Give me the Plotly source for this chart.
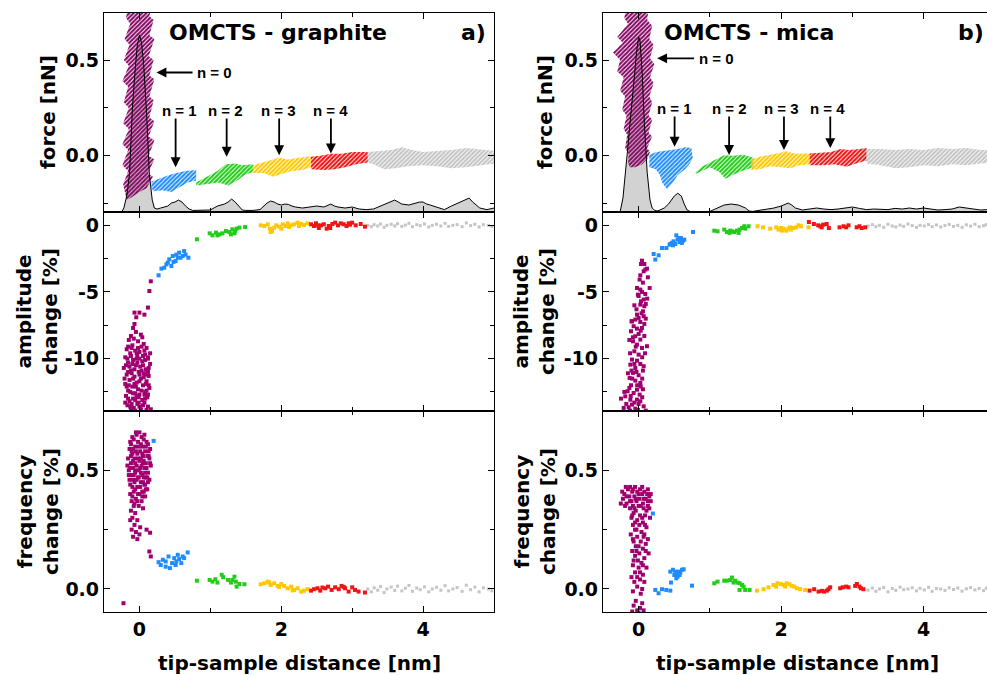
import plotly.graph_objects as go

W, H = 987, 675
FONT = "DejaVu Sans"

# ---------------- tick labels ----------------
X_TICKS = [0, 2, 4]
X_TEXT = ["0", "2", "4"]
X_MINOR = [1, 3]
F_TICKS = [0.0, 0.5]
F_TEXT = ["0.0", "0.5"]
F_MINOR = [-0.25, 0.25]
A_TICKS = [-10, -5, 0]
A_TEXT = ["-10", "-5", "0"]
A_MINOR = [-12.5, -7.5, -2.5]
Q_TICKS = [0.0, 0.5]
Q_TEXT = ["0.0", "0.5"]
Q_MINOR = [0.25]

# ---------------- histogram (gray distribution in force panels) ----------------
g_hist_x = [-0.50,-0.30,-0.25,-0.22,-0.18,-0.14,-0.10,-0.06,-0.03,0.00,0.03,0.06,0.10,0.14,0.18,0.21,0.25,0.30,0.35,
            0.40,0.45,0.50,0.55,0.60,0.65,0.70,0.75,0.80,0.90,1.00,1.05,1.10,1.15,1.20,1.25,1.30,1.35,1.40,1.45,
            1.50,1.60,1.70,1.75,1.80,1.85,1.90,1.95,2.00,2.05,2.10,2.15,2.20,2.30,2.40,2.50,2.60,2.70,2.75,2.80,
            2.90,3.00,3.10,3.20,3.30,3.40,3.50,3.55,3.60,3.65,3.70,3.80,3.90,3.95,4.00,4.05,4.10,4.20,4.30,4.40,
            4.50,4.60,4.65,4.70,4.80,4.90,5.00]
g_hist_h = [0,0,0,0.02,0.08,0.19,0.52,0.72,0.84,0.89,0.85,0.74,0.50,0.19,0.06,0.02,0.015,0.02,0.025,
            0.03,0.045,0.05,0.06,0.05,0.03,0.015,0.008,0.008,0.008,0.01,0.02,0.03,0.035,0.04,0.05,0.065,0.05,0.03,0.01,
            0.008,0.008,0.012,0.03,0.045,0.055,0.05,0.04,0.035,0.04,0.038,0.03,0.025,0.02,0.025,0.03,0.025,0.04,0.03,0.025,
            0.02,0.025,0.015,0.012,0.015,0.03,0.045,0.05,0.06,0.05,0.04,0.035,0.045,0.05,0.05,0.04,0.035,0.025,0.012,0.03,
            0.045,0.06,0.07,0.05,0.02,0.012,0.02]
m_hist_x = [-0.50,-0.30,-0.26,-0.22,-0.19,-0.15,-0.12,-0.09,-0.06,-0.03,0.00,0.02,0.05,0.08,0.12,0.16,0.19,0.22,0.26,0.30,
            0.36,0.42,0.46,0.50,0.55,0.60,0.64,0.68,0.72,0.80,0.90,1.00,1.10,1.20,1.30,1.40,1.50,1.55,1.60,1.70,
            1.80,1.90,2.00,2.10,2.15,2.20,2.30,2.40,2.50,2.60,2.70,2.80,2.90,3.00,3.10,3.20,3.30,3.40,3.50,3.60,
            3.70,3.80,3.90,4.00,4.10,4.20,4.30,4.40,4.50,4.60,4.70,4.80,4.90]
m_hist_h = [0,0,0,0.07,0.2,0.33,0.45,0.55,0.68,0.80,0.88,0.86,0.70,0.45,0.20,0.06,0.02,0.01,0.005,0.01,
            0.02,0.04,0.06,0.08,0.094,0.08,0.04,0.01,0.003,0.0,0.0,0.003,0.02,0.035,0.04,0.035,0.02,0.005,0.003,0.008,
            0.012,0.02,0.03,0.045,0.035,0.02,0.01,0.015,0.02,0.015,0.012,0.015,0.02,0.025,0.018,0.012,0.015,0.015,0.012,0.018,
            0.015,0.02,0.015,0.02,0.015,0.01,0.012,0.015,0.025,0.02,0.012,0.01,0.012]

# ---------------- force curves (outline of each n-layer band) ----------------
g_force_p = [(-0.15,0.80),(-0.19,0.72),(-0.13,0.69),(-0.21,0.61),(-0.14,0.58),(-0.22,0.50),(-0.15,0.47),(-0.24,0.39),
             (-0.16,0.36),(-0.22,0.28),(-0.15,0.25),(-0.23,0.17),(-0.15,0.14),(-0.24,0.06),(-0.16,0.03),(-0.24,-0.05),
             (-0.16,-0.08),(-0.23,-0.15),(-0.18,-0.23),(-0.12,-0.22),(0.0,-0.19),(0.10,-0.17),(0.19,-0.11),(0.12,-0.09),
             (0.21,-0.02),(0.13,0.0),(0.21,0.08),(0.13,0.10),(0.21,0.18),(0.14,0.20),(0.20,0.29),(0.14,0.31),(0.21,0.40),
             (0.14,0.42),(0.20,0.50),(0.13,0.52),(0.21,0.61),(0.14,0.63),(0.20,0.71),(0.14,0.73),(0.18,0.80)]
g_force_b = [(0.17,-0.135),(0.30,-0.115),(0.42,-0.10),(0.52,-0.09),(0.65,-0.08),(0.80,-0.075),(0.80,-0.13),(0.68,-0.14),
             (0.55,-0.17),(0.45,-0.19),(0.32,-0.18),(0.20,-0.185),(0.17,-0.17)]
g_force_g = [(0.80,-0.14),(0.95,-0.11),(1.10,-0.08),(1.22,-0.045),(1.35,-0.04),(1.45,-0.05),(1.60,-0.045),(1.60,-0.085),
             (1.48,-0.10),(1.38,-0.13),(1.25,-0.155),(1.12,-0.14),(0.95,-0.15),(0.80,-0.155)]
g_force_y = [(1.60,-0.05),(1.75,-0.035),(1.90,-0.02),(1.97,-0.01),(2.10,-0.02),(2.25,-0.01),(2.42,-0.003),(2.42,-0.06),
             (2.30,-0.075),(2.15,-0.08),(2.00,-0.095),(1.88,-0.11),(1.75,-0.09),(1.60,-0.09)]
g_force_r = [(2.42,-0.005),(2.55,0.0),(2.70,0.01),(2.85,0.01),(3.00,0.02),(3.22,0.02),(3.22,-0.035),(3.05,-0.045),
             (2.90,-0.06),(2.75,-0.07),(2.60,-0.075),(2.42,-0.07)]
g_force_k = [(3.22,0.02),(3.40,0.025),(3.55,0.03),(3.70,0.045),(3.85,0.03),(4.00,0.02),(4.20,0.025),(4.40,0.03),(4.60,0.04),
             (4.80,0.035),(5.05,0.025),(5.05,-0.04),(4.85,-0.05),(4.60,-0.06),(4.40,-0.065),(4.20,-0.055),(4.00,-0.05),
             (3.80,-0.055),(3.60,-0.065),(3.45,-0.07),(3.30,-0.045),(3.22,-0.035)]

m_force_p = [(-0.17,0.80),(-0.20,0.72),(-0.15,0.69),(-0.30,0.62),(-0.22,0.59),(-0.36,0.54),(-0.26,0.50),(-0.30,0.44),
             (-0.21,0.41),(-0.26,0.34),(-0.19,0.31),(-0.23,0.24),(-0.17,0.21),(-0.21,0.14),(-0.16,0.11),(-0.19,0.04),
             (-0.14,0.01),(-0.15,-0.04),(-0.12,-0.06),(-0.05,-0.06),(0.05,-0.045),(0.12,-0.02),(0.16,0.02),(0.12,0.04),
             (0.19,0.10),(0.14,0.12),(0.19,0.19),(0.14,0.21),(0.19,0.28),(0.15,0.31),(0.21,0.38),(0.16,0.41),(0.22,0.48),
             (0.16,0.51),(0.21,0.58),(0.15,0.61),(0.19,0.68),(0.12,0.71),(0.15,0.80)]
m_force_b = [(0.15,0.005),(0.25,0.02),(0.35,0.025),(0.45,0.03),(0.55,0.035),(0.65,0.045),(0.74,0.04),(0.76,-0.01),
             (0.72,-0.04),(0.65,-0.07),(0.55,-0.10),(0.48,-0.14),(0.40,-0.175),(0.33,-0.14),(0.30,-0.10),(0.24,-0.07),(0.15,-0.06)]
m_force_g = [(0.80,-0.085),(0.90,-0.055),(1.00,-0.035),(1.10,-0.015),(1.20,0.003),(1.32,0.0),(1.47,0.005),(1.61,-0.01),
             (1.61,-0.06),(1.45,-0.08),(1.32,-0.10),(1.22,-0.12),(1.13,-0.085),(1.00,-0.06),(0.88,-0.08),(0.80,-0.095)]
m_force_y = [(1.58,-0.02),(1.70,-0.005),(1.85,0.005),(2.00,0.015),(2.05,0.025),(2.20,0.01),(2.40,0.012),(2.40,-0.045),
             (2.25,-0.05),(2.13,-0.065),(2.00,-0.06),(1.85,-0.055),(1.70,-0.07),(1.58,-0.075)]
m_force_r = [(2.40,0.012),(2.55,0.015),(2.70,0.02),(2.83,0.035),(2.95,0.03),(3.10,0.035),(3.20,0.04),(3.20,-0.025),
             (3.05,-0.04),(2.92,-0.058),(2.75,-0.045),(2.60,-0.05),(2.40,-0.05)]
m_force_k = [(3.20,0.035),(3.40,0.035),(3.60,0.03),(3.80,0.035),(4.00,0.03),(4.20,0.04),(4.40,0.035),(4.60,0.04),(4.80,0.03),
             (5.0,0.03),(5.0,-0.035),(4.80,-0.04),(4.60,-0.05),(4.40,-0.045),(4.20,-0.055),(4.00,-0.05),(3.80,-0.06),
             (3.60,-0.065),(3.40,-0.05),(3.20,-0.04)]

# ---------------- amplitude change [%] (graphite) ----------------
g_amp_p = [(0.14,-4.93),(0.16,-4.20),(0.12,-6.17),(-0.07,-6.55),(0.0,-6.55),(0.07,-6.70),(-0.045,-6.9),(-0.07,-7.4),
           (-0.09,-7.7),(-0.05,-8.0),(0.02,-8.2),(-0.12,-8.3),(-0.15,-8.6),(-0.02,-8.7),(0.06,-8.9),(-0.10,-9.0),
           (0.03,-9.1),(-0.18,-9.3),(0.10,-9.2),(-0.06,-9.4),(0.0,-9.5),(-0.13,-9.6),(0.08,-9.7),(-0.20,-9.9),
           (-0.03,-9.8),(0.12,-10.0),(-0.09,-10.1),(0.04,-10.2),(-0.16,-10.3),(0.15,-10.4),(-0.05,-10.5),(0.01,-10.6),
           (-0.22,-10.7),(0.09,-10.8),(-0.12,-10.9),(-0.01,-11.0),(0.06,-11.1),(-0.18,-11.2),(0.13,-11.3),(-0.07,-11.35),
           (0.02,-11.5),(-0.14,-11.6),(0.10,-11.7),(-0.04,-11.8),(-0.20,-11.9),(0.05,-12.0),(-0.10,-12.1),(0.14,-12.2),
           (-0.02,-12.3),(-0.16,-12.4),(0.08,-12.5),(-0.06,-12.6),(0.00,-12.7),(-0.19,-12.8),(0.11,-12.9),(-0.09,-13.0),
           (0.04,-13.1),(-0.14,-13.2),(0.07,-13.3),(-0.03,-13.4),(-0.17,-13.5),(0.12,-13.6),(-0.08,-13.7),(0.02,-13.8),
           (-0.12,-13.85),(0.16,-13.8),(-0.21,-11.5),(0.15,-9.6),(-0.11,-9.2),(0.05,-9.8),(-0.07,-10.8),(0.11,-10.9),
           (-0.13,-12.5),(0.09,-11.9),(-0.01,-12.9),(-0.04,-10.0),(0.07,-12.7),(-0.17,-10.0),(-0.08,-8.5),(0.04,-8.4),
           (-0.02,-9.2),(0.08,-10.1),(-0.14,-10.6),(0.03,-10.9),(-0.09,-11.5),(0.06,-11.4),(-0.05,-12.1),(0.10,-12.4),
           (-0.11,-13.4),(0.0,-13.6),(-0.06,-13.1),(0.12,-11.0),(-0.18,-12.1),(0.0,-11.2),
           (-0.16,-9.1),(0.07,-9.4),(-0.04,-9.6),(0.12,-9.9),(-0.19,-10.5),(-0.10,-10.4),(0.05,-10.5),(0.13,-10.7),
           (-0.03,-10.3),(-0.16,-11.0),(0.08,-11.2),(-0.11,-11.1),(0.0,-11.7),(-0.07,-11.9),(0.13,-12.0),(-0.15,-12.0),
           (0.03,-12.4),(-0.09,-12.6),(0.12,-12.7),(-0.04,-12.8),(-0.16,-13.0),(0.08,-13.0),(-0.01,-13.3),(-0.13,-13.6),
           (0.05,-13.5),(0.10,-13.85),(-0.06,-13.9),(-0.20,-13.3),(0.0,-10.0),(-0.12,-9.8)]
g_amp_b = [(0.27,-3.75),(0.31,-3.25),(0.35,-3.18),(0.40,-2.80),(0.45,-3.05),(0.42,-2.55),(0.47,-2.30),(0.52,-2.20),
           (0.56,-2.05),(0.58,-2.43),(0.63,-1.93),(0.61,-2.30),(0.69,-2.43),(0.51,-2.68),(0.54,-2.43),(0.48,-2.75),
           (0.38,-2.93),(0.65,-2.20)]
g_amp_g = [(0.81,-1.05),(0.99,-0.60),(1.03,-0.75),(1.08,-0.55),(1.13,-0.68),(1.17,-0.60),(1.22,-0.43),(1.27,-0.50),
           (1.31,-0.30),(1.34,-0.60),(1.37,-0.25),(1.41,-0.17),(1.49,-0.13),(1.10,-0.75),(1.29,-0.68),(1.35,-0.43)]
g_amp_y = [(1.71,0.0),(1.76,-0.05),(1.81,0.075),(1.84,-0.25),(1.87,-0.43),(1.90,-0.18),(1.93,0.0),(1.97,-0.1),
           (2.02,0.075),(2.06,-0.05),(2.09,0.15),(2.14,0.0),(2.18,0.075),(2.23,0.2),(2.28,0.1),(2.32,0.025),
           (2.37,0.15),(1.85,-0.5),(2.00,-0.25),(2.11,-0.13),(2.25,-0.05)]
g_amp_r = [(2.42,0.08),(2.46,-0.05),(2.49,0.15),(2.53,-0.2),(2.56,0.0),(2.60,0.08),(2.64,-0.25),(2.67,-0.05),
           (2.72,0.1),(2.76,0.2),(2.80,0.0),(2.84,0.15),(2.88,0.08),(2.92,-0.05),(2.95,0.15),(3.00,0.2),
           (3.05,0.0),(3.12,0.1),(3.18,-0.1),(2.51,0.0),(2.69,-0.2),(2.97,0.05)]
g_gray_x = [3.22,3.27,3.31,3.36,3.40,3.45,3.49,3.55,3.60,3.64,3.70,3.75,3.80,3.85,3.91,3.96,4.02,4.08,4.13,4.19,
            4.25,4.31,4.36,4.42,4.48,4.55,4.61,4.67,4.73,4.79,4.85,4.92,4.97]
g_amp_k = [0.0,-0.1,0.05,-0.05,0.1,-0.15,0.0,0.08,-0.05,0.12,-0.08,0.02,0.15,-0.1,0.05,-0.02,0.1,-0.12,0.0,0.08,
           -0.05,0.15,-0.08,0.0,0.05,-0.1,0.18,-0.02,0.08,-0.12,0.05,0.0,-0.08]

# ---------------- frequency change [%] (graphite) ----------------
g_frq_p = [(0.0,0.66),(-0.04,0.65),(0.03,0.64),(-0.08,0.63),(0.06,0.63),(0.10,0.62),(-0.02,0.62),(-0.12,0.61),(0.12,0.61),
           (0.04,0.60),(-0.06,0.60),(0.15,0.59),(-0.14,0.59),(0.01,0.58),(0.08,0.58),(-0.10,0.57),(-0.03,0.57),(0.11,0.56),
           (0.05,0.56),(-0.16,0.55),(-0.07,0.55),(0.14,0.55),(0.00,0.54),(-0.12,0.53),(0.09,0.53),(-0.04,0.52),(0.03,0.52),
           (0.16,0.52),(-0.09,0.51),(0.07,0.51),(-0.15,0.50),(-0.01,0.50),(0.12,0.49),(-0.06,0.49),(0.04,0.48),(-0.11,0.48),
           (0.09,0.47),(-0.02,0.47),(0.14,0.46),(-0.14,0.46),(-0.07,0.45),(0.02,0.45),(0.07,0.44),(-0.10,0.43),(-0.03,0.43),
           (0.11,0.42),(0.04,0.41),(-0.08,0.41),(-0.13,0.40),(0.0,0.40),(0.08,0.39),(-0.05,0.38),(-0.11,0.37),(0.03,0.37),
           (-0.08,0.35),(-0.01,0.35),(0.05,0.34),(-0.12,0.33),(-0.06,0.32),(-0.10,0.30),(-0.03,0.29),(-0.13,0.29),
           (-0.07,0.27),(0.01,0.26),(-0.11,0.25),(-0.05,0.24),(0.10,0.25),(-0.09,0.22),(-0.03,0.21),(0.00,0.23),
           (0.14,0.158),(0.16,0.137),(0.15,0.237),(-0.225,-0.06),(-0.17,0.52),(0.13,0.58),(-0.05,0.66),(0.02,0.55),
           (-0.09,0.59),(0.06,0.47),(-0.01,0.60),(0.05,0.53),(-0.06,0.53),(0.10,0.51),(-0.12,0.56),(0.02,0.49),
           (-0.04,0.46),(0.08,0.44),(-0.08,0.48),(0.12,0.45),(-0.02,0.40),(0.06,0.41),
           (-0.10,0.64),(0.07,0.65),(-0.13,0.62),(0.02,0.61),(0.09,0.60),(-0.05,0.58),(-0.11,0.58),(0.04,0.57),
           (0.13,0.56),(-0.02,0.55),(-0.09,0.54),(0.06,0.54),(0.15,0.53),(-0.13,0.51),(0.01,0.51),(-0.06,0.50),
           (0.08,0.49),(-0.15,0.48),(-0.01,0.47),(0.11,0.47),(-0.09,0.46),(0.05,0.45),(-0.13,0.44),(0.01,0.43),
           (-0.06,0.42),(0.09,0.42),(-0.10,0.39),(0.04,0.39),(-0.03,0.37),(-0.07,0.36)]
g_frq_b = [(0.27,0.113),(0.30,0.101),(0.33,0.123),(0.37,0.116),(0.41,0.137),(0.43,0.088),(0.46,0.109),(0.49,0.130),
           (0.52,0.116),(0.54,0.144),(0.56,0.126),(0.59,0.109),(0.61,0.137),(0.63,0.130),(0.68,0.154),(0.51,0.101),
           (0.37,0.094),(0.20,0.624)]
g_frq_g = [(0.81,0.035),(0.99,0.038),(1.03,0.031),(1.07,0.041),(1.10,0.027),(1.16,0.060),(1.18,0.050),(1.25,0.038),
           (1.29,0.027),(1.34,0.052),(1.36,0.031),(1.37,0.010),(1.41,0.021),(1.48,0.020),(1.31,0.038)]
g_frq_y = [(1.71,0.020),(1.76,0.024),(1.81,0.031),(1.85,0.017),(1.90,0.024),(1.95,0.013),(2.00,0.021),(2.04,0.013),
           (2.09,0.003),(2.14,0.010),(2.18,-0.004),(2.23,0.003),(2.28,-0.011),(2.32,-0.007),(2.37,-0.001),(1.83,0.027),
           (1.97,0.008),(2.16,-0.006)]
g_frq_r = [(2.42,-0.007),(2.46,-0.001),(2.51,0.003),(2.55,-0.007),(2.62,0.003),(2.66,0.010),(2.71,-0.004),(2.76,0.007),
           (2.81,-0.001),(2.85,0.013),(2.90,0.003),(2.95,-0.011),(3.00,0.007),(3.04,-0.004),(3.09,-0.011),(3.18,-0.015),
           (2.58,0.006),(2.88,0.009)]
g_frq_k = [0.0,-0.012,0.005,-0.005,0.01,-0.015,0.0,0.008,-0.006,0.012,-0.008,0.003,0.015,-0.01,0.004,-0.003,0.009,
           -0.012,0.0,0.007,-0.005,0.014,-0.008,0.0,0.006,-0.01,0.016,-0.003,0.008,-0.012,0.005,0.0,-0.008]

# ---------------- amplitude change [%] (mica) ----------------
m_amp_p = [(0.047,-2.65),(0.033,-2.90),(0.094,-3.32),(0.071,-3.45),(0.117,-3.25),(0.024,-3.75),(0.014,-4.07),(-0.023,-4.70),
           (0.024,-4.82),(0.047,-5.0),(0.094,-5.15),(0.155,-4.70),(0.071,-5.57),(0.033,-5.70),(0.024,-5.95),(0.080,-6.07),
           (0.061,-6.45),(-0.023,-6.70),(-0.093,-7.20),(-0.046,-7.07),(0.0,-6.95),(0.071,-6.82),(0.024,-7.25),(-0.070,-7.57),
           (-0.107,-7.95),(-0.023,-7.75),(0.047,-7.70),(0.0,-8.15),(-0.046,-8.32),(0.024,-8.57),(-0.079,-8.70),(-0.023,-8.95),
           (0.047,-9.20),(0.117,-9.07),(-0.060,-9.45),(0.0,-9.70),(-0.093,-10.07),(-0.023,-10.15),(0.024,-10.40),
           (-0.116,-10.45),(-0.046,-10.70),(0.071,-10.57),(-0.079,-11.07),(0.0,-11.25),(-0.126,-11.45),(-0.046,-11.65),
           (0.024,-11.83),(-0.107,-12.0),(-0.023,-12.33),(-0.154,-12.45),(-0.070,-12.58),(0.014,-12.70),(-0.187,-12.83),
           (-0.116,-13.08),(-0.023,-13.08),(-0.247,-13.0),(-0.173,-13.40),(-0.093,-13.45),(0.0,-13.40),(0.071,-13.58),
           (-0.046,-13.75),(-0.140,-13.65),(0.024,-13.20),(0.0,-5.3),(0.10,-5.9),(-0.03,-6.3),(0.08,-7.4),(-0.08,-8.4),
           (0.05,-9.9),(-0.10,-10.9),(0.03,-12.1),(-0.03,-11.0),(-0.13,-12.2),
           (0.08,-2.9),(0.13,-3.9),(0.06,-4.3),(-0.01,-5.2),(0.12,-5.5),(0.04,-6.6),(-0.06,-6.0),(0.10,-7.0),(-0.10,-7.2),
           (0.03,-7.9),(-0.13,-8.6),(0.08,-8.3),(-0.04,-9.1),(0.09,-9.6),(-0.12,-9.6),(-0.06,-10.4),(0.06,-10.9),
           (-0.15,-11.1),(0.05,-11.5),(-0.09,-11.5),(-0.02,-12.0),(0.06,-12.3),(-0.20,-12.5),(-0.11,-12.8),(0.05,-12.9),
           (-0.06,-13.3),(-0.21,-13.7),(0.10,-13.9),(-0.01,-13.85),(-0.12,-13.9)]
m_amp_b = [(0.211,-2.15),(0.281,-2.25),(0.234,-2.57),(0.328,-1.70),(0.389,-1.70),(0.435,-1.45),(0.468,-1.32),(0.491,-1.20),
           (0.529,-0.75),(0.547,-1.07),(0.575,-1.25),(0.594,-0.95),(0.622,-1.15),(0.641,-1.07),(0.515,-1.40),(0.561,-0.95),
           (0.482,-1.50),(0.445,-1.40),(0.608,-1.32),(0.763,-0.50)]
m_amp_g = [(1.062,-0.40),(1.108,-0.45),(1.202,-0.32),(1.239,-0.50),(1.277,-0.57),(1.31,-0.45),(1.342,-0.50),(1.38,-0.40),
           (1.417,-0.32),(1.45,-0.20),(1.482,-0.07),(1.497,-0.25),(1.543,-0.07),(1.403,-0.57),(1.286,-0.40)]
m_amp_y = [(1.669,-0.07),(1.745,-0.15),(1.847,-0.25),(1.932,-0.15),(1.964,-0.32),(1.997,-0.20),(2.034,-0.25),(2.072,-0.40),
           (2.104,-0.25),(2.137,-0.32),(2.174,-0.20),(2.212,-0.15),(2.244,0.0),(2.277,-0.07),(2.385,-0.15),(2.011,-0.40),
           (2.128,-0.15)]
m_amp_r = [(2.39,0.25),(2.46,0.10),(2.52,0.0),(2.55,-0.07),(2.59,0.05),(2.64,0.10),(2.67,-0.20),(2.82,-0.15),(2.876,-0.07),
           (2.913,-0.15),(2.946,0.0),(3.06,-0.15),(3.10,-0.07),(3.13,-0.20),(3.18,-0.15),(2.57,-0.15)]
m_gray_x = [3.22,3.28,3.33,3.38,3.44,3.50,3.56,3.61,3.67,3.72,3.78,3.84,3.90,3.95,4.01,4.07,4.12,4.18,4.24,4.30,
            4.36,4.42,4.48,4.54,4.60,4.66,4.72,4.78,4.84,4.88]
m_amp_k = [-0.05,0.05,-0.1,0.0,-0.15,0.08,-0.05,-0.12,0.02,-0.08,0.1,-0.02,-0.15,0.0,-0.05,0.05,-0.1,0.03,-0.12,-0.02,
           0.06,-0.08,0.0,-0.15,0.04,-0.06,0.08,-0.1,-0.03,0.05]

# ---------------- frequency change [%] (mica) ----------------
m_frq_p = [(-0.12,0.43),(-0.05,0.43),(0.02,0.42),(-0.15,0.42),(0.08,0.41),(-0.09,0.41),(-0.02,0.41),(0.12,0.40),(-0.20,0.40),
           (0.05,0.40),(-0.13,0.39),(0.15,0.39),(-0.06,0.39),(0.01,0.38),(-0.22,0.38),(0.10,0.38),(-0.10,0.37),(0.17,0.37),
           (-0.03,0.37),(0.06,0.36),(-0.17,0.36),(-0.08,0.35),(0.13,0.35),(0.0,0.35),(-0.12,0.34),(0.07,0.34),(-0.04,0.33),
           (0.11,0.33),(-0.25,0.36),(0.16,0.30),(-0.07,0.32),(0.02,0.31),(0.09,0.31),(-0.10,0.30),(-0.02,0.29),(0.06,0.28),
           (-0.08,0.27),(0.01,0.27),(0.11,0.26),(-0.05,0.25),(0.04,0.24),(-0.11,0.23),(0.08,0.23),(-0.02,0.22),(0.13,0.21),
           (-0.07,0.20),(0.03,0.20),(0.10,0.19),(-0.04,0.18),(0.06,0.17),(-0.09,0.16),(0.01,0.15),(0.14,0.15),(-0.05,0.14),
           (0.08,0.13),(-0.01,0.12),(0.04,0.11),(-0.08,0.10),(0.11,0.09),(0.0,0.09),(-0.05,0.07),(0.06,0.06),(-0.10,0.05),
           (0.02,0.04),(-0.06,0.03),(0.08,0.03),(-0.02,0.01),(0.05,0.0),(-0.08,-0.01),(0.03,-0.02),(-0.04,-0.05),
           (0.05,-0.06),(-0.07,-0.07),(0.02,-0.08),(-0.02,-0.09),(0.07,-0.09),(-0.09,-0.095),(0.0,-0.1),
           (-0.18,0.43),(0.05,0.43),(-0.08,0.42),(0.13,0.42),(-0.23,0.41),(0.0,0.40),(0.17,0.40),(-0.17,0.39),
           (-0.04,0.38),(0.07,0.38),(-0.12,0.37),(0.13,0.37),(-0.19,0.35),(0.03,0.35),(-0.06,0.34),(0.15,0.34),
           (-0.09,0.31),(0.05,0.30),(-0.05,0.28),(0.09,0.27),(-0.03,0.25),(0.07,0.22),(-0.08,0.21),(0.0,0.18),
           (0.10,0.16),(-0.03,0.16),(-0.07,0.12),(0.06,0.10),(0.02,0.07),(-0.02,0.05)]
m_frq_b = [(0.234,-0.004),(0.28,-0.018),(0.328,-0.001),(0.388,-0.004),(0.445,-0.007),(0.454,0.027),(0.749,0.014),
           (0.20,0.318),(0.445,0.073),(0.482,0.081),(0.515,0.066),(0.538,0.059),(0.562,0.073),(0.585,0.069),(0.608,0.081),
           (0.632,0.083),(0.529,0.045),(0.547,0.052),(0.501,0.059),(0.575,0.059),(0.52,0.073),(0.53,0.065),(0.55,0.07)]
m_frq_g = [(1.062,0.024),(1.108,0.031),(1.202,0.035),(1.24,0.035),(1.286,0.038),(1.31,0.048),(1.332,0.027),(1.356,0.035),
           (1.389,0.027),(1.417,0.024),(1.45,0.017),(1.473,0.010),(1.496,-0.004),(1.417,-0.004),(1.557,-0.004)]
m_frq_y = [(1.66,-0.007),(1.753,-0.001),(1.823,0.007),(1.893,0.017),(1.95,0.024),(1.997,0.021),(2.034,0.017),(2.08,0.024),
           (2.118,0.020),(2.151,0.013),(2.184,0.010),(2.22,0.003),(2.268,-0.001),(2.338,-0.004),(1.93,0.010),(2.057,0.010)]
m_frq_r = [(2.40,-0.007),(2.464,-0.001),(2.525,-0.011),(2.572,-0.008),(2.605,-0.011),(2.665,-0.001),(2.689,0.007),
           (2.829,0.003),(2.866,0.007),(2.913,0.010),(2.946,0.007),(3.039,0.013),(3.063,0.021),(3.10,0.010),(3.12,0.003),
           (3.156,-0.001),(2.642,-0.007)]
m_frq_k = [-0.005,0.004,-0.01,0.0,0.006,-0.012,0.002,-0.006,0.008,-0.003,0.0,0.005,-0.008,0.003,-0.004,0.007,-0.01,
           0.002,0.0,-0.006,0.005,-0.002,0.004,-0.009,0.001,0.006,-0.004,0.002,-0.007,0.003]

# ---------------- layer labels ----------------
g_n_labels = ["n = 1", "n = 2", "n = 3", "n = 4"]
g_n_x = [0.57, 1.21, 1.96, 2.69]
g_n_arrow_x = [0.51, 1.23, 1.97, 2.70]
g_n_arrow_y = [-0.06, -0.005, 0.003, 0.012]
g_n0 = (0.24, 0.77, 0.435)
m_n_x = [0.50, 1.27, 2.00, 2.65]
m_n_arrow_x = [0.505, 1.27, 2.04, 2.69]
m_n_arrow_y = [0.047, 0.004, 0.03, 0.04]
m_n0 = (0.26, 0.80, 0.509)

# ---------------- styles ----------------
C_PB = "#870a66"
C_P = "#a0006f"
C_B = "#1e8cff"
C_G = "#22cc18"
C_Y = "#ffc800"
C_R = "#f01414"
C_K = "#c4c4c4"


def xs(p):
    return [a for a, _ in p]


def ys(p):
    return [b for _, b in p]


fig = go.Figure()


def add_band(poly, color, xa, ya):
    fig.add_trace(go.Scatter(x=xs(poly), y=ys(poly), mode="lines", fill="toself",
                             line=dict(width=0, color=color), fillcolor="rgba(0,0,0,0)",
                             fillpattern=dict(shape="/", fgcolor=color, bgcolor="rgba(0,0,0,0)",
                                              size=3, solidity=0.7, fillmode="replace"),
                             xaxis=xa, yaxis=ya, hoverinfo="skip", showlegend=False))


def add_pts(x, y, color, xa, ya, size=4):
    fig.add_trace(go.Scatter(x=x, y=y, mode="markers",
                             marker=dict(symbol="square", size=size, color=color, line=dict(width=0)),
                             xaxis=xa, yaxis=ya, hoverinfo="skip", showlegend=False))


def add_hist(hx, hh, xa, ya_fill, ya_line):
    fig.add_trace(go.Scatter(x=hx, y=hh, mode="lines", fill="tozeroy", fillcolor="#d2d2d2",
                             line=dict(width=0, color="#d2d2d2"), xaxis=xa, yaxis=ya_fill,
                             hoverinfo="skip", showlegend=False))
    fig.add_trace(go.Scatter(x=hx, y=hh, mode="lines", line=dict(width=1, color="black"),
                             xaxis=xa, yaxis=ya_line, hoverinfo="skip", showlegend=False))


# graphite (left)
add_hist(g_hist_x, g_hist_h, "x", "y", "y3")
for poly, col in [(g_force_p, C_PB), (g_force_b, C_B), (g_force_g, C_G), (g_force_y, C_Y), (g_force_r, C_R), (g_force_k, C_K)]:
    add_band(poly, col, "x", "y2")
add_pts(g_gray_x, g_amp_k, C_K, "x2", "y7", 3)
for p, col in [(g_amp_p, C_P), (g_amp_b, C_B), (g_amp_g, C_G), (g_amp_y, C_Y), (g_amp_r, C_R)]:
    add_pts(xs(p), ys(p), col, "x2", "y7")
add_pts(g_gray_x, g_frq_k, C_K, "x3", "y8", 3)
for p, col in [(g_frq_p, C_P), (g_frq_b, C_B), (g_frq_g, C_G), (g_frq_y, C_Y), (g_frq_r, C_R)]:
    add_pts(xs(p), ys(p), col, "x3", "y8")

# mica (right)
add_hist(m_hist_x, m_hist_h, "x4", "y4", "y6")
for poly, col in [(m_force_p, C_PB), (m_force_b, C_B), (m_force_g, C_G), (m_force_y, C_Y), (m_force_r, C_R), (m_force_k, C_K)]:
    add_band(poly, col, "x4", "y5")
add_pts(m_gray_x, m_amp_k, C_K, "x5", "y9", 3)
for p, col in [(m_amp_p, C_P), (m_amp_b, C_B), (m_amp_g, C_G), (m_amp_y, C_Y), (m_amp_r, C_R)]:
    add_pts(xs(p), ys(p), col, "x5", "y9")
add_pts(m_gray_x, m_frq_k, C_K, "x6", "y10", 3)
for p, col in [(m_frq_p, C_P), (m_frq_b, C_B), (m_frq_g, C_G), (m_frq_y, C_Y), (m_frq_r, C_R)]:
    add_pts(xs(p), ys(p), col, "x6", "y10")

# ---------------- axes ----------------
LX = [104 / W, 494 / W]
RX = [603 / W, 1.0]
TOP = [1 - 212 / H, 1 - 13 / H]
MID = [1 - 411 / H, 1 - 212 / H]
BOT = [1 - 612 / H, 1 - 411 / H]
TICKFONT = dict(family=FONT, size=19, color="black", weight="bold")
LW = 1.3


def xaxis(dom, anchor, rng, labels):
    return dict(domain=dom, anchor=anchor, range=rng, showline=True, linecolor="black", linewidth=LW,
                mirror="ticks", ticks="inside", ticklen=6, tickwidth=LW, tickcolor="black",
                tickvals=X_TICKS, ticktext=X_TEXT, showticklabels=labels, tickfont=TICKFONT,
                minor=dict(tickvals=X_MINOR, ticks="inside", ticklen=4, tickwidth=LW, tickcolor="black"),
                showgrid=False, zeroline=False, fixedrange=True)


def yaxis(dom, anchor, rng, tv, tt, mv, mirror, overlaying=None):
    d = dict(anchor=anchor, range=rng, showline=True, linecolor="black", linewidth=LW,
             mirror=("ticks" if mirror else False), ticks="inside", ticklen=6, tickwidth=LW, tickcolor="black",
             tickvals=tv, ticktext=tt, tickfont=TICKFONT,
             minor=dict(tickvals=mv, ticks="inside", ticklen=4, tickwidth=LW, tickcolor="black"),
             showgrid=False, zeroline=False, fixedrange=True)
    if overlaying:
        d["overlaying"] = overlaying
    else:
        d["domain"] = dom
    return d


hidden = dict(range=[0, 1], visible=False, fixedrange=True)
L_RNG = [-0.5, 5.0]
R_RNG = [-0.5, 4.89]
F_RNG = [-0.294, 0.746]
A_RNG = [-13.93, 1.0]
Q_RNG = [-0.097, 0.75]

fig.update_layout(
    width=W, height=H, margin=dict(l=0, r=0, t=0, b=0),
    paper_bgcolor="white", plot_bgcolor="rgba(0,0,0,0)", showlegend=False,
    xaxis=xaxis(LX, "y", L_RNG, False),
    xaxis2=xaxis(LX, "y7", L_RNG, False),
    xaxis3=xaxis(LX, "y8", L_RNG, True),
    xaxis4=xaxis(RX, "y4", R_RNG, False),
    xaxis5=xaxis(RX, "y9", R_RNG, False),
    xaxis6=xaxis(RX, "y10", R_RNG, True),
    yaxis=dict(hidden, domain=TOP, anchor="x"),
    yaxis2=yaxis(TOP, "x", F_RNG, F_TICKS, F_TEXT, F_MINOR, True, overlaying="y"),
    yaxis3=dict(hidden, anchor="x", overlaying="y"),
    yaxis4=dict(hidden, domain=TOP, anchor="x4"),
    yaxis5=yaxis(TOP, "x4", F_RNG, F_TICKS, F_TEXT, F_MINOR, False, overlaying="y4"),
    yaxis6=dict(hidden, anchor="x4", overlaying="y4"),
    yaxis7=yaxis(MID, "x2", A_RNG, A_TICKS, A_TEXT, A_MINOR, True),
    yaxis8=yaxis(BOT, "x3", Q_RNG, Q_TICKS, Q_TEXT, Q_MINOR, True),
    yaxis9=yaxis(MID, "x5", A_RNG, A_TICKS, A_TEXT, A_MINOR, False),
    yaxis10=yaxis(BOT, "x6", Q_RNG, Q_TICKS, Q_TEXT, Q_MINOR, False),
)

# ---------------- annotations ----------------
ann = []
BF = lambda s: dict(family=FONT, size=s, color="black", weight="bold")
LBL = dict(family="Liberation Sans", size=15, color="black", weight="bold")


def arrow(xh, yh, xt, yt, xr, yr):
    ann.append(dict(x=xh, y=yh, ax=xt, ay=yt, xref=xr, yref=yr, axref=xr, ayref=yr, text="",
                    showarrow=True, arrowhead=2, arrowsize=1.1, arrowwidth=1.8, arrowcolor="black", standoff=0))


for labels, nx, ax_, ay_, n0, xr, yr, ly in [
        (g_n_labels, g_n_x, g_n_arrow_x, g_n_arrow_y, g_n0, "x", "y2", 0.238),
        (g_n_labels, m_n_x, m_n_arrow_x, m_n_arrow_y, m_n0, "x4", "y5", 0.248)]:
    for t, x0, xa0, ya0 in zip(labels, nx, ax_, ay_):
        ann.append(dict(x=x0, y=ly, xref=xr, yref=yr, text=t, showarrow=False, font=LBL,
                        xanchor="center", yanchor="middle"))
        arrow(xa0, ya0, xa0, ly - 0.035, xr, yr)
    arrow(n0[0], n0[2], n0[1], n0[2], xr, yr)
    ann.append(dict(x=n0[1] + 0.02, y=n0[2], xref=xr, yref=yr, text="n = 0", showarrow=False, font=LBL,
                    xanchor="left", yanchor="middle"))

ann += [
    dict(x=167 / W, y=1 - 33 / H, text="OMCTS - graphite", xanchor="left"),
    dict(x=488 / W, y=1 - 33 / H, text="a)", xanchor="right"),
    dict(x=662 / W, y=1 - 33 / H, text="OMCTS - mica", xanchor="left"),
    dict(x=986 / W, y=1 - 33 / H, text="b)", xanchor="right"),
]
for a in ann[-4:]:
    a.update(xref="paper", yref="paper", yanchor="middle", showarrow=False, font=BF(22))

for off in (0, 497):
    for txt, cx, cy in [("force [nN]", 48, 112), ("amplitude<br>change [%]", 37, 312),
                        ("frequency<br>change [%]", 38, 512)]:
        ann.append(dict(x=(cx + off) / W, y=1 - cy / H, xref="paper", yref="paper", text=txt, textangle=-90,
                        showarrow=False, xanchor="center", yanchor="middle", font=BF(20)))
for cx in (299, 797):
    ann.append(dict(x=cx / W, y=1 - 663 / H, xref="paper", yref="paper", text="tip-sample distance [nm]",
                    showarrow=False, xanchor="center", yanchor="middle", font=BF(20)))

fig.update_layout(annotations=ann)
fig.write_html("out.html")
